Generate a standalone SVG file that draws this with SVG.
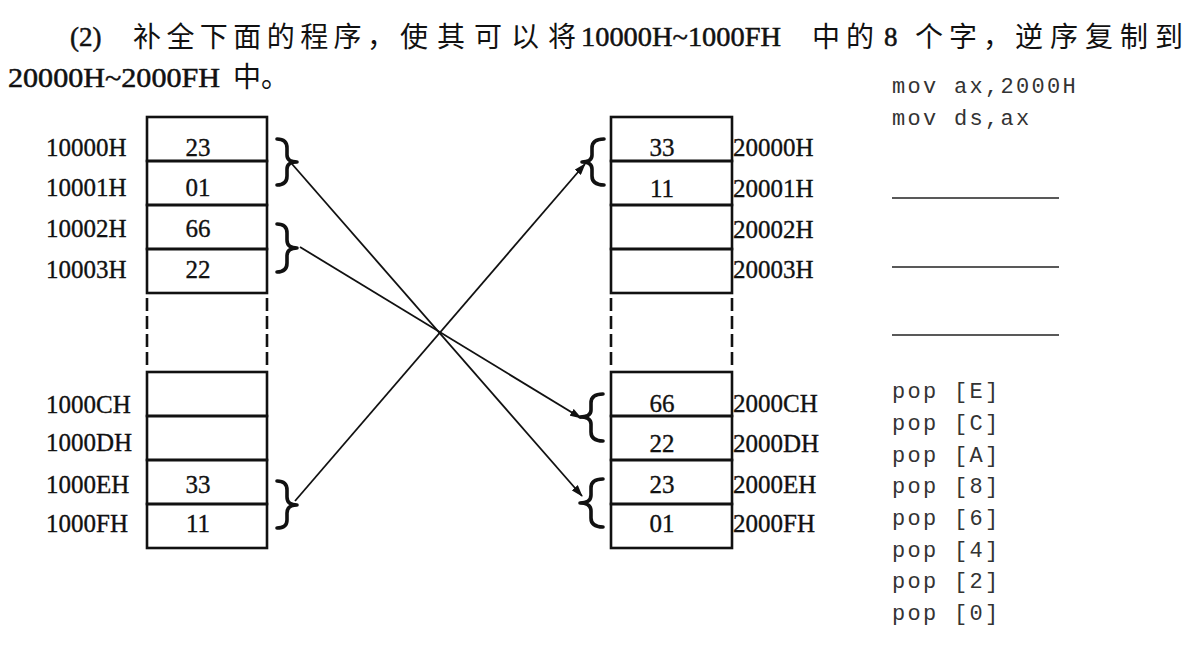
<svg xmlns="http://www.w3.org/2000/svg" width="1201" height="646" viewBox="0 0 1201 646">
<style>
.bg{fill:#ffffff}
.cell{fill:none;stroke:#111;stroke-width:2.6}
.dash{stroke:#111;stroke-width:2.6;stroke-dasharray:13 5;fill:none}
.lat{font-family:"Liberation Serif","Times New Roman",serif;fill:#111;stroke:#111;stroke-width:0.5}
.tb{font-size:27px}
.cjk{font-family:"Noto Sans CJK SC","Noto Sans CJK JP",sans-serif;font-size:28px;fill:#111}
.lbl{font-family:"Liberation Serif","Times New Roman",serif;font-size:25px;fill:#111;stroke:#111;stroke-width:0.35}
.val{font-family:"Liberation Serif","Times New Roman",serif;font-size:25px;fill:#111;stroke:#111;stroke-width:0.35;text-anchor:middle}
.code{font-family:"Liberation Mono","Courier New",monospace;font-size:22px;letter-spacing:2.3px;fill:#333}
.blank{stroke:#222;stroke-width:1.5}
.brace{fill:none;stroke:#111;stroke-width:3.6;stroke-linecap:round;stroke-linejoin:round}
.arrow{stroke:#111;stroke-width:1.8;fill:none;marker-end:url(#ah)}
</style>
<defs>
<marker id="ah" viewBox="0 0 12 8" refX="11" refY="4" markerWidth="12" markerHeight="8" markerUnits="userSpaceOnUse" orient="auto">
<path d="M0,0 L12,4 L0,8 Z" fill="#111"/>
</marker>
</defs>
<rect class="bg" x="0" y="0" width="1201" height="646"/>

<g id="title">
<text class="lat tb" x="70" y="46">(2)</text>
<text class="cjk" x="133" y="47" textLength="262" lengthAdjust="spacing">补全下面的程序，</text>
<text class="cjk" x="400" y="47" textLength="176" lengthAdjust="spacing">使其可以将</text>
<text class="lat tb" x="581" y="46" textLength="200" lengthAdjust="spacingAndGlyphs">10000H~1000FH</text>
<text class="cjk" x="812" y="47" textLength="62" lengthAdjust="spacing">中的</text>
<text class="lat tb" x="884" y="46">8</text>
<text class="cjk" x="915" y="47" textLength="96" lengthAdjust="spacing">个字，</text>
<text class="cjk" x="1015" y="47" textLength="168" lengthAdjust="spacing">逆序复制到</text>
<text class="lat tb" x="8" y="87" textLength="212" lengthAdjust="spacingAndGlyphs">20000H~2000FH</text>
<text class="cjk" x="233" y="87">中。</text>
</g>

<g id="src-memory">
<g id="src-10000"><rect class="cell" x="147" y="117" width="120" height="44"/><text class="lbl" x="46" y="156">10000H</text><text class="val" x="198" y="156">23</text></g>
<g id="src-10001"><rect class="cell" x="147" y="161" width="120" height="44"/><text class="lbl" x="46" y="196">10001H</text><text class="val" x="198" y="196">01</text></g>
<g id="src-10002"><rect class="cell" x="147" y="205" width="120" height="44"/><text class="lbl" x="46" y="237">10002H</text><text class="val" x="198" y="237">66</text></g>
<g id="src-10003"><rect class="cell" x="147" y="249" width="120" height="44"/><text class="lbl" x="46" y="278">10003H</text><text class="val" x="198" y="278">22</text></g>
<line class="dash" x1="147" y1="298" x2="147" y2="368"/>
<line class="dash" x1="267" y1="298" x2="267" y2="368"/>
<g id="src-1000C"><rect class="cell" x="147" y="372" width="120" height="44"/><text class="lbl" x="46" y="413">1000CH</text></g>
<g id="src-1000D"><rect class="cell" x="147" y="416" width="120" height="44"/><text class="lbl" x="46" y="451">1000DH</text></g>
<g id="src-1000E"><rect class="cell" x="147" y="460" width="120" height="44"/><text class="lbl" x="46" y="493">1000EH</text><text class="val" x="198" y="493">33</text></g>
<g id="src-1000F"><rect class="cell" x="147" y="504" width="120" height="44"/><text class="lbl" x="46" y="532">1000FH</text><text class="val" x="198" y="532">11</text></g>
</g>

<g id="dst-memory">
<g id="dst-20000"><rect class="cell" x="611" y="117" width="121" height="44"/><text class="val" x="662" y="156">33</text><text class="lbl" x="733" y="156">20000H</text></g>
<g id="dst-20001"><rect class="cell" x="611" y="161" width="121" height="44"/><text class="val" x="662" y="197">11</text><text class="lbl" x="733" y="197">20001H</text></g>
<g id="dst-20002"><rect class="cell" x="611" y="205" width="121" height="44"/><text class="lbl" x="733" y="238">20002H</text></g>
<g id="dst-20003"><rect class="cell" x="611" y="249" width="121" height="44"/><text class="lbl" x="733" y="278">20003H</text></g>
<line class="dash" x1="611" y1="298" x2="611" y2="368"/>
<line class="dash" x1="732" y1="298" x2="732" y2="368"/>
<g id="dst-2000C"><rect class="cell" x="611" y="372" width="121" height="44"/><text class="val" x="662" y="412">66</text><text class="lbl" x="733" y="412">2000CH</text></g>
<g id="dst-2000D"><rect class="cell" x="611" y="416" width="121" height="44"/><text class="val" x="662" y="452">22</text><text class="lbl" x="733" y="452">2000DH</text></g>
<g id="dst-2000E"><rect class="cell" x="611" y="460" width="121" height="44"/><text class="val" x="662" y="493">23</text><text class="lbl" x="733" y="493">2000EH</text></g>
<g id="dst-2000F"><rect class="cell" x="611" y="504" width="121" height="44"/><text class="val" x="662" y="532">01</text><text class="lbl" x="733" y="532">2000FH</text></g>
</g>

<g id="braces">
<path class="brace" d="M277,139 Q287,139 287,148 L287,155 Q287,162 297,162 Q287,162 287,169 L287,176 Q287,185 277,185"/>
<path class="brace" d="M277,224 Q287,224 287,233 L287,240 Q287,248 297,248 Q287,248 287,256 L287,263 Q287,272 277,272"/>
<path class="brace" d="M277,481 Q287,481 287,490 L287,497 Q287,505 297,505 Q287,505 287,513 L287,520 Q287,528 277,528"/>
<path class="brace" d="M604,139 Q592,139 592,148 L592,155 Q592,162 582,162 Q592,162 592,169 L592,176 Q592,185 604,185"/>
<path class="brace" d="M603,394 Q591,394 591,403 L591,410 Q591,417 580,417 Q591,417 591,424 L591,432 Q591,441 603,441"/>
<path class="brace" d="M603,479 Q591,479 591,488 L591,495 Q591,503 580,503 Q591,503 591,511 L591,518 Q591,527 603,527"/>
</g>

<g id="connectors">
<line class="arrow" x1="292" y1="164" x2="582" y2="496"/>
<line class="arrow" x1="300" y1="247" x2="581" y2="418"/>
<line class="arrow" x1="295" y1="501" x2="585" y2="164"/>
</g>

<g id="code">
<text class="code" x="892" y="93">mov ax,2000H</text>
<text class="code" x="892" y="125">mov ds,ax</text>
<line class="blank" x1="892" y1="198" x2="1059" y2="198"/>
<line class="blank" x1="892" y1="267" x2="1059" y2="267"/>
<line class="blank" x1="892" y1="335" x2="1059" y2="335"/>
<text class="code" x="892" y="398">pop [E]</text>
<text class="code" x="892" y="430">pop [C]</text>
<text class="code" x="892" y="462">pop [A]</text>
<text class="code" x="892" y="493">pop [8]</text>
<text class="code" x="892" y="525">pop [6]</text>
<text class="code" x="892" y="557">pop [4]</text>
<text class="code" x="892" y="588">pop [2]</text>
<text class="code" x="892" y="620">pop [0]</text>
</g>
</svg>
